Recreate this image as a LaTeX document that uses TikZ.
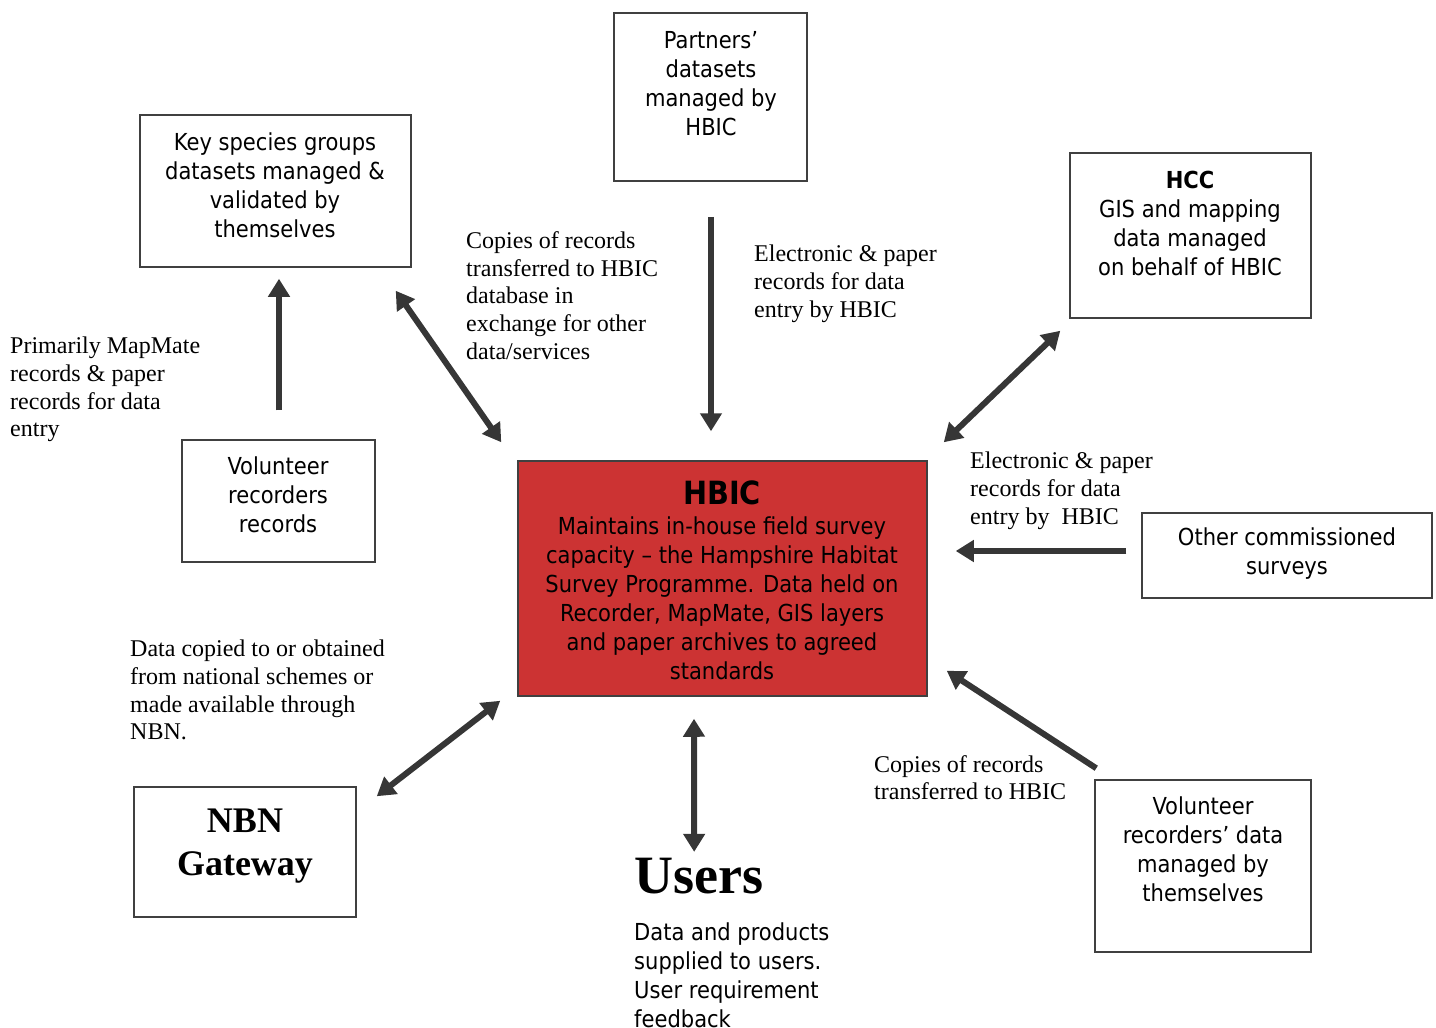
\documentclass[tikz,border=0pt]{standalone}
\usepackage{fontspec}
\setmainfont{Liberation Serif}
\newfontfamily\tahoma{DejaVu Sans Condensed}
\usetikzlibrary{arrows.meta,fit}
\definecolor{hbicred}{HTML}{CC3333}
\definecolor{arrowgrey}{HTML}{363636}
\definecolor{boxgrey}{HTML}{404040}

\begin{document}
\begin{tikzpicture}[x=1pt,y=-1pt,
  box/.style={draw=boxgrey,line width=1.5pt,inner sep=0pt},
  boxtext/.style={align=center,inner sep=0pt,font=\tahoma\fontsize{23.4}{29}\selectfont},
  note/.style={align=left,inner sep=0pt,anchor=north west,font=\fontsize{24}{27.6}\selectfont},
  flow/.style={draw=arrowgrey,line width=6pt,-{Triangle[length=18pt,width=21pt]}},
  both/.style={flow,{Triangle[length=18pt,width=21pt]}-{Triangle[length=18pt,width=21pt]}}]
\useasboundingbox (0,0) rectangle (1436,1028);

\node[box,fit={(140,115) (411,267)}] (keysp) {};
\node[boxtext] (keysptext) at (275,185.5) {Key species groups\\datasets managed \&\\validated by\\themselves};
\node[box,fit={(614,13) (807,181)}] (partners) {};
\node[boxtext] (partnerstext) at (711,83.5) {Partners’\\datasets\\managed by\\HBIC};
\node[box,fit={(1070,153) (1311,318)}] (hcc) {};
\node[boxtext] (hcctext) at (1190,223) {{\bfseries HCC}\\GIS and mapping\\data managed\\on behalf of HBIC};
\node[box,fit={(182,440) (375,562)}] (vol) {};
\node[boxtext] (voltext) at (278,495) {Volunteer\\recorders\\records};
\node[box,fill=hbicred,fit={(518,461) (927,696)}] (hbic) {};
\node[boxtext,font=\tahoma\bfseries\fontsize{32}{38}\selectfont] (hbictitle) at (722,492.5) {HBIC};
\node[boxtext] (hbictext) at (722,598.5) {Maintains in-house field survey\\capacity – the Hampshire Habitat\\Survey Programme. Data held on\\Recorder, MapMate, GIS layers\\and paper archives to agreed\\standards};
\node[box,fit={(1142,513) (1432,598)}] (other) {};
\node[boxtext] (othertext) at (1287,553.5) {Other commissioned\\surveys};
\node[box,fit={(134,787) (356,917)}] (nbn) {};
\node[align=center,inner sep=0pt,font=\bfseries\fontsize{36}{43}\selectfont] (nbntext) at (245,846.5) {NBN\\Gateway};
\node[box,fit={(1095,780) (1311,952)}] (volrec) {};
\node[boxtext] (volrectext) at (1203,849.5) {Volunteer\\recorders’ data\\managed by\\themselves};
\node[inner sep=0pt,anchor=west,font=\bfseries\fontsize{54}{60}\selectfont] (users) at (634,876) {Users};
\node[boxtext,align=left,anchor=north west] (userstext) at (634,923) {Data and products\\supplied to users.\\User requirement\\feedback};

\node[note] (mapmatenote) at (10,337) {Primarily MapMate\\records \& paper\\records for data\\entry};
\node[note] (exchangenote) at (466,231.5) {Copies of records\\transferred to HBIC\\database in\\exchange for other\\data/services};
\node[note] (entrynote) at (754,245) {Electronic \& paper\\records for data\\entry by HBIC};
\node[note] (surveynote) at (970,452) {Electronic \& paper\\records for data\\entry by\ \ HBIC};
\node[note] (nationalnote) at (130,640) {Data copied to or obtained\\from national schemes or\\made available through\\NBN.};
\node[note] (transfernote) at (874,755) {Copies of records\\transferred to HBIC};

\draw[flow] ([xshift=0.5pt,yshift=29pt]vol.north) -- ([xshift=3.5pt,yshift=-11pt]keysp.south);
\draw[both] ([xshift=-16pt,yshift=-23pt]keysp.south east) -- ([xshift=-16pt,yshift=18pt]hbic.north west);
\draw[flow] ([xshift=0.5pt,yshift=-35pt]partners.south) -- ([xshift=-11.5pt,yshift=29pt]hbic.north);
\draw[both] ([xshift=16pt,yshift=18pt]hbic.north east) -- ([xshift=-9pt,yshift=-12pt]hcc.south west);
\draw[flow] ([xshift=-15pt,yshift=4.5pt]other.west) -- ([xshift=28pt,yshift=27.5pt]hbic.east);
\draw[flow] ([xshift=2pt,yshift=11pt]volrec.north west) -- ([xshift=19pt,yshift=26pt]hbic.south east);
\draw[both] ([xshift=-28.5pt,yshift=-22pt]hbic.south) -- ([xshift=-4.5pt,yshift=6pt]users.north);
\draw[both] ([xshift=20pt,yshift=-10pt]nbn.north east) -- ([xshift=-17pt,yshift=-4pt]hbic.south west);
\end{tikzpicture}
\end{document}
